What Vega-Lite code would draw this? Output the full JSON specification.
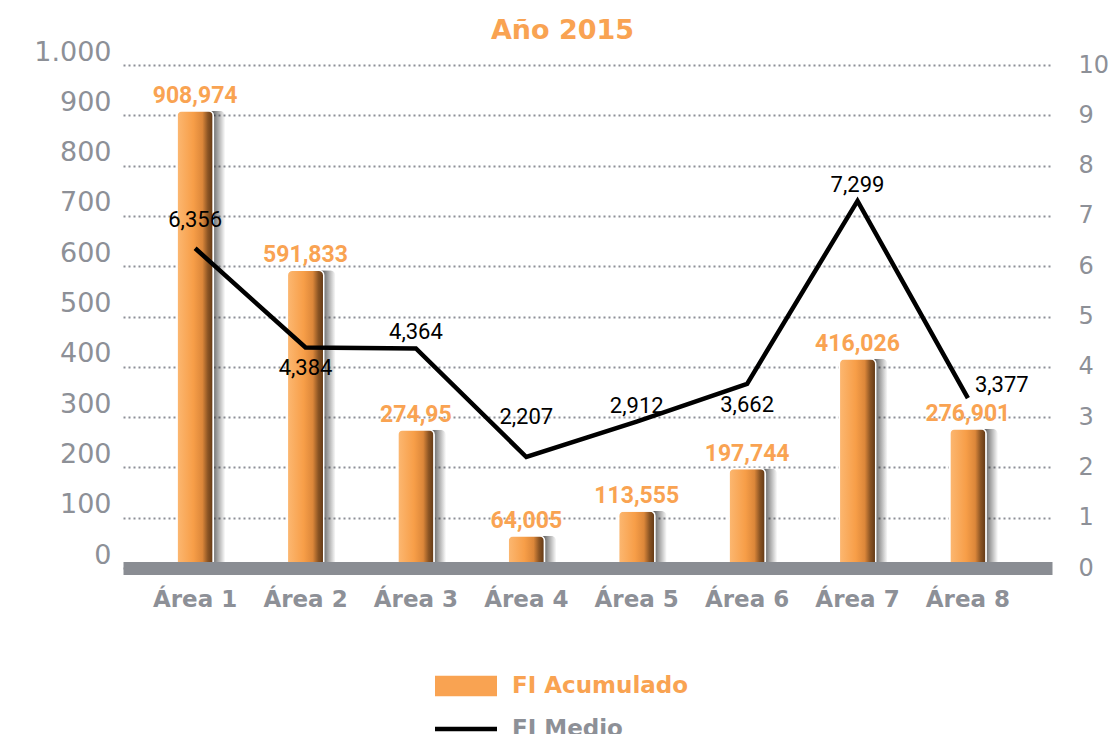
{
  "$schema": "https://vega.github.io/schema/vega-lite/v6.json",
  "autosize": {"type": "none"},
  "width": 929,
  "height": 503,
  "padding": {"left": 123, "top": 65, "right": 64, "bottom": 166},
  "background": "white",
  "title": {
    "text": "Año 2015",
    "color": "#f9a352",
    "font": "DejaVu Sans",
    "fontSize": 27,
    "fontWeight": "bold",
    "anchor": "middle",
    "frame": "group",
    "baseline": "alphabetic",
    "offset": -28,
    "dx": -25
  },
  "config": {
    "locale": {"number": {"decimal": ",", "thousands": ".", "grouping": [3], "currency": ["", " €"]}},
    "view": {"stroke": null}
  },
  "data": {
    "values": [
      {"area": "Área 1", "acum": 908.974, "medio": 6.356},
      {"area": "Área 2", "acum": 591.833, "medio": 4.384},
      {"area": "Área 3", "acum": 274.95, "medio": 4.364},
      {"area": "Área 4", "acum": 64.005, "medio": 2.207},
      {"area": "Área 5", "acum": 113.555, "medio": 2.912},
      {"area": "Área 6", "acum": 197.744, "medio": 3.662},
      {"area": "Área 7", "acum": 416.026, "medio": 7.299},
      {"area": "Área 8", "acum": 276.901, "medio": 3.377}
    ]
  },
  "encoding": {
    "x": {
      "field": "area",
      "type": "nominal",
      "sort": null,
      "scale": {"paddingInner": 0.67, "paddingOuter": 0.5425, "align": 0.45},
      "axis": {
        "title": null,
        "labelAngle": 0,
        "ticks": false,
        "domain": true,
        "domainColor": "#8a8d93",
        "domainWidth": 13,
        "labelFont": "DejaVu Sans",
        "labelFontWeight": "bold",
        "labelFontSize": 23,
        "labelColor": "#8d9097",
        "labelPadding": 20,
        "zindex": 1
      }
    }
  },
  "layer": [
    {
      "encoding": {
        "y": {
          "field": "acum",
          "type": "quantitative",
          "scale": {"domain": [0, 1000], "nice": false},
          "axis": {
            "title": null,
            "orient": "left",
            "tickCount": 10,
            "format": ",d",
            "domain": false,
            "ticks": false,
            "grid": true,
            "gridColor": "#8d9097",
            "gridDash": [2, 3],
            "gridWidth": 2,
            "labelFont": "DejaVu Sans",
            "labelFontSize": 27,
            "labelColor": "#8d9097",
            "labelBaseline": "alphabetic",
            "labelOffset": -5,
            "labelPadding": 12
          }
        }
      },
      "layer": [
        {
          "mark": {
            "type": "bar",
            "cornerRadius": 6,
            "xOffset": 12,
            "fill": {
              "gradient": "linear", "x1": 0, "y1": 0, "x2": 1, "y2": 0,
              "stops": [
                {"offset": 0, "color": "rgba(0,0,0,0.85)"},
                {"offset": 0.65, "color": "rgba(0,0,0,0.6)"},
                {"offset": 1, "color": "rgba(0,0,0,0)"}
              ]
            }
          }
        },
        {
          "mark": {"type": "bar", "cornerRadius": 5},
          "encoding": {
            "color": {
              "datum": "FI Acumulado",
              "scale": {"domain": ["FI Acumulado", "FI Medio"], "range": ["#f9a352", "#000000"]},
              "legend": {
                "title": null,
                "orient": "none",
                "legendX": 312,
                "legendY": 590,
                "direction": "vertical",
                "padding": 0,
                "labelFont": "DejaVu Sans",
                "labelFontWeight": "bold",
                "labelFontSize": 23,
                "labelLimit": 400,
                "labelOffset": 15,
                "rowPadding": -20,
                "symbolSize": 3844,
                "encode": {
                  "symbols": {
                    "update": {
                      "shape": {"signal": "datum.label === 'FI Medio' ? 'M-1,-0.07H1V0.07H-1Z' : 'M-1,-0.33H1V0.33H-1Z'"},
                      "fill": {"signal": "datum.label === 'FI Medio' ? '#000000' : '#f7a04c'"},
                      "stroke": {"value": "transparent"},
                      "strokeWidth": {"value": 0},
                      "opacity": {"value": 1},
                      "size": {"value": 3844}
                    }
                  },
                  "labels": {
                    "update": {
                      "fill": {"signal": "datum.label === 'FI Medio' ? '#8d9097' : '#f9a352'"}
                    }
                  }
                }
              }
            }
          }
        },
        {
          "mark": {
            "type": "bar",
            "cornerRadius": 5,
            "stroke": "white",
            "strokeWidth": 1.5,
            "fill": {
              "gradient": "linear", "x1": 0, "y1": 0, "x2": 1, "y2": 0,
              "stops": [
                {"offset": 0, "color": "#fcb872"},
                {"offset": 0.45, "color": "#f79e48"},
                {"offset": 0.7, "color": "#dc873a"},
                {"offset": 0.85, "color": "#8a5424"},
                {"offset": 1, "color": "#5e3614"}
              ]
            }
          }
        },
        {
          "mark": {
            "type": "text",
            "baseline": "alphabetic",
            "dy": -8,
            "font": "Roboto",
            "fontSize": 23,
            "fontWeight": "bold",
            "color": "#f9a352"
          },
          "encoding": {"text": {"field": "acum", "type": "quantitative", "format": ".3~f"}}
        }
      ]
    },
    {
      "encoding": {
        "y": {
          "field": "medio",
          "type": "quantitative",
          "scale": {"domain": [0, 10], "nice": false},
          "axis": {
            "title": null,
            "orient": "right",
            "tickCount": 10,
            "domain": false,
            "ticks": false,
            "grid": false,
            "labelFont": "DejaVu Sans",
            "labelFontSize": 24,
            "labelColor": "#8d9097",
            "labelBaseline": "middle",
            "labelPadding": 26
          }
        }
      },
      "layer": [
        {
          "mark": {"type": "line", "strokeWidth": 4.5, "strokeJoin": "miter"},
          "encoding": {"color": {"datum": "FI Medio"}}
        },
        {
          "transform": [{"filter": {"field": "area", "oneOf": ["Área 3", "Área 5", "Área 7"]}}],
          "mark": {"type": "text", "baseline": "alphabetic", "dy": -9, "font": "Roboto", "fontSize": 22, "color": "#000000"},
          "encoding": {"text": {"field": "medio", "type": "quantitative", "format": ".3~f"}}
        },
        {
          "transform": [{"filter": {"field": "area", "oneOf": ["Área 1"]}}],
          "mark": {"type": "text", "baseline": "alphabetic", "dy": -21, "font": "Roboto", "fontSize": 22, "color": "#000000"},
          "encoding": {"text": {"field": "medio", "type": "quantitative", "format": ".3~f"}}
        },
        {
          "transform": [{"filter": {"field": "area", "oneOf": ["Área 4"]}}],
          "mark": {"type": "text", "baseline": "alphabetic", "dy": -33, "font": "Roboto", "fontSize": 22, "color": "#000000"},
          "encoding": {"text": {"field": "medio", "type": "quantitative", "format": ".3~f"}}
        },
        {
          "transform": [{"filter": {"field": "area", "oneOf": ["Área 2", "Área 6"]}}],
          "mark": {"type": "text", "baseline": "alphabetic", "dy": 28, "font": "Roboto", "fontSize": 22, "color": "#000000"},
          "encoding": {"text": {"field": "medio", "type": "quantitative", "format": ".3~f"}}
        },
        {
          "transform": [{"filter": {"field": "area", "oneOf": ["Área 8"]}}],
          "mark": {"type": "text", "baseline": "alphabetic", "align": "left", "dx": 7, "dy": -6, "font": "Roboto", "fontSize": 22, "color": "#000000"},
          "encoding": {"text": {"field": "medio", "type": "quantitative", "format": ".3~f"}}
        }
      ]
    }
  ],
  "resolve": {"scale": {"y": "independent"}}
}
